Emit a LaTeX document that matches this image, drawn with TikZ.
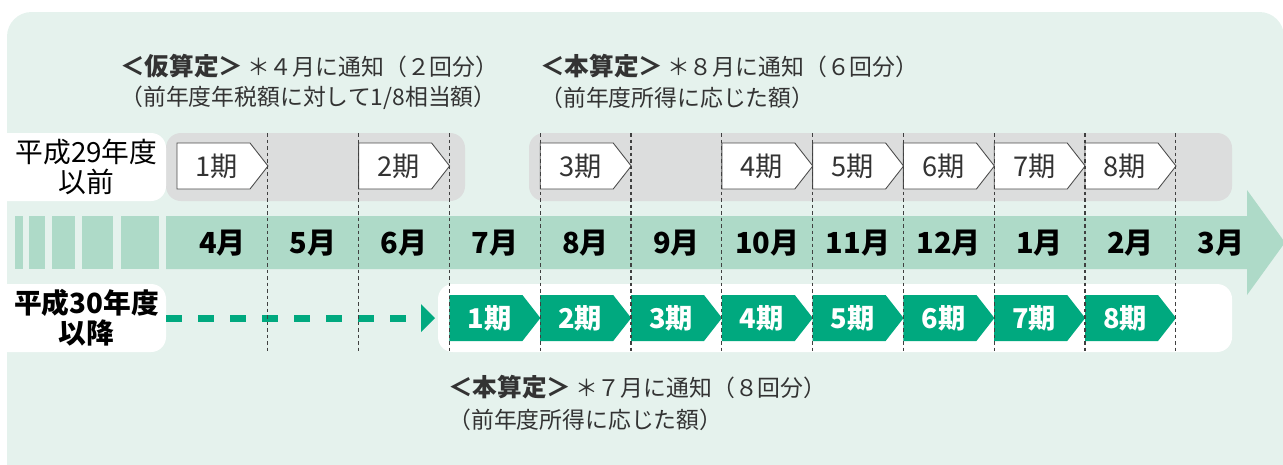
\documentclass[tikz,border=0pt]{standalone}
\usepackage{fontspec}
\setmainfont{Noto Sans CJK JP}
\usetikzlibrary{arrows.meta}

\definecolor{bgmint}{HTML}{E5F2ED}
\definecolor{bandgreen}{HTML}{AEDAC8}
\definecolor{kigreen}{HTML}{00A97F}
\definecolor{boxgray}{HTML}{DCDDDD}
\definecolor{textgray}{HTML}{333333}

\begin{document}
\begin{tikzpicture}[x=0.02cm, y=-0.02cm,
  anno/.style={anchor=west, inner sep=0pt, text=textgray, font=\fontsize{13}{15}\selectfont},
  yearlbl/.style={align=center, inner sep=0pt, minimum width=3.18cm, minimum height=1.36cm, font=\fontsize{15.8}{17}\selectfont},
  month/.style={inner sep=0pt, font=\bfseries\fontsize{16.5}{18}\selectfont},
  kibox/.style={fill=white, draw=black!70, line width=0.5pt},
  kitext/.style={inner sep=0pt, text=textgray, font=\fontsize{15.5}{17}\selectfont},
  honbox/.style={fill=kigreen},
  hontext/.style={inner sep=0pt, text=white, font=\bfseries\fontsize{15.5}{17}\selectfont},
  monthline/.style={draw=black!75, line width=0.6pt, dash pattern=on 2.2pt off 1.5pt},
  todash/.style={draw=kigreen, line width=0.14cm, dash pattern=on 0.314cm off 0.326cm,
    -{Triangle[length=0.28cm, width=0.56cm, line width=0pt]}}]
\useasboundingbox (0,0) rectangle (1283,464);
\clip (0,0) rectangle (1283,464);

% Hintergrund
\fill[bgmint, rounded corners=14pt] (7,12) rectangle (1284,500);

% Texte oben
\node[anno] (kari1) at (120,66) {{\bfseries\fontsize{14}{16}\selectfont ＜仮算定＞}\,＊４月に通知（２回分）};
\node[anno] (kari2) at (120,98) {（前年度年税額に対して1/8相当額）};
\node[anno] (hon1) at (540,66) {{\bfseries\fontsize{14}{16}\selectfont ＜本算定＞}\,＊８月に通知（６回分）};
\node[anno] (hon2) at (540,98) {（前年度所得に応じた額）};

% Graue Felder und weisse Felder
\fill[boxgray, rounded corners=8.5pt] (166,133) rectangle (465,201);
\fill[boxgray, rounded corners=8.5pt] (529,133) rectangle (1232,201);
\fill[white, rounded corners=8.5pt] (-20,133) rectangle (166,201);
\fill[white, rounded corners=8.5pt] (-20,284) rectangle (166,352);
\fill[white, rounded corners=8.5pt] (438,284) rectangle (1232,352);

\node[yearlbl] (before) at (86.5,167) {平成29年度\\以前};
\node[yearlbl, font=\bfseries\fontsize{15.8}{17}\selectfont] (after) at (86.5,318) {平成30年度\\以降};

% Monatsband
\fill[bandgreen] (166,216) -- (1247,216) -- (1247,190) -- (1285,242.5)
  -- (1247,295) -- (1247,269) -- (166,269) -- cycle;
\foreach \a/\b in {15/23,29/45,52/75,82/113,121/159}
  \fill[bandgreen] (\a,216) rectangle (\b,269);
\foreach \m [count=\i from 0] in {4,5,6,7,8,9,10,11,12,1,2,3}
  \node[month] (m\i) at (222.4+\i*90.8,243) {\m 月};

% Alte Termine
\foreach \c/\n in {0/1,2/2,4/3,6/4,7/5,8/6,9/7,10/8} {
  \draw[kibox] (177+\c*90.8,143) -- ++(73,0) -- ++(18,23) -- ++(-18,23) -- ++(-73,0) -- cycle;
  \node[kitext] (old\n) at (217+\c*90.8,166) {\n 期};
}

% Neue Termine
\coordinate (dashend) at (435,318);
\draw[todash] (after.east) -- (dashend);
\foreach \c [count=\n] in {3,4,5,6,7,8,9,10} {
  \fill[honbox] (177+\c*90.8,295) -- ++(73,0) -- ++(18,23) -- ++(-18,23) -- ++(-73,0) -- cycle;
  \node[hontext] (new\n) at (217+\c*90.8,318) {\n 期};
}

% Monatsgrenzen
\foreach \i in {1,...,11}
  \draw[monthline] (177+\i*90.8,133) -- (177+\i*90.8,352);

% Text unten
\node[anno] (hon3) at (448,387) {{\bfseries\fontsize{14}{16}\selectfont ＜本算定＞}\,＊７月に通知（８回分）};
\node[anno] (hon4) at (448,420) {（前年度所得に応じた額）};
\end{tikzpicture}
\end{document}
